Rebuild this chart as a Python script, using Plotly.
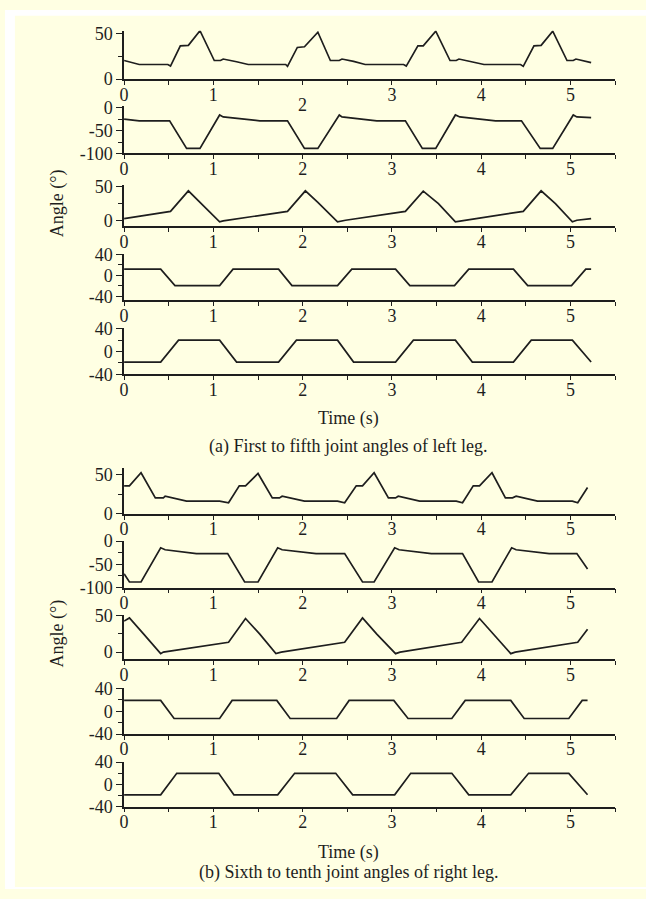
import plotly.graph_objects as go

# ---- joint angle traces (time in s, angle in degrees) ----
# Left leg, joints 1-5
t1 = [0, 0.17, 0.49, 0.52, 0.63, 0.72, 0.85, 1.01, 1.08, 1.11, 1.26, 1.39, 1.81, 1.83, 1.94, 2.02, 2.17,
      2.31, 2.41, 2.44, 2.57, 2.70, 3.13, 3.16, 3.29, 3.35, 3.49, 3.65, 3.72, 3.75, 3.89, 4.03, 4.44, 4.47,
      4.59, 4.67, 4.80, 4.96, 5.03, 5.06, 5.23]
a1 = [20.4, 16, 16, 14.3, 36.4, 37, 53, 20.4, 20.4, 22, 19, 16, 16, 14, 34.7, 35.4, 51.4,
      20.4, 20.4, 22, 19.4, 16, 16, 14.3, 36.4, 36.4, 52.5, 20.4, 20.4, 22, 19, 16, 16, 14,
      36.4, 37, 52.5, 20.4, 20.4, 22, 18]

t2 = [0, 0.17, 0.51, 0.70, 0.85, 1.07, 1.11, 1.52, 1.83, 2.02, 2.17, 2.41, 2.44, 2.83, 3.15, 3.34, 3.49,
      3.71, 3.76, 4.16, 4.45, 4.66, 4.80, 5.03, 5.07, 5.23]
a2 = [-25, -28.6, -28.6, -89, -89, -15.7, -20, -28.6, -28.6, -89, -89, -15.7, -20, -28.6, -28.6, -89, -89,
      -15.7, -20, -28.6, -28.6, -89, -89, -15.7, -20, -21.5]

t3 = [0, 0.52, 0.72, 0.85, 1.07, 1.11, 1.83, 2.03, 2.17, 2.39, 2.48, 3.15, 3.35, 3.52, 3.71, 3.78, 4.47,
      4.67, 4.83, 5.02, 5.07, 5.23]
a3 = [3.4, 14, 44.3, 27.4, -1.4, 0, 14, 44.3, 27.4, -1.4, 0.9, 14, 43.8, 25.5, -1.4, 0, 14,
      44.3, 25.5, -1.4, 0.9, 3.4]

t4 = [0, 0.41, 0.57, 1.07, 1.22, 1.73, 1.88, 2.39, 2.55, 3.04, 3.20, 3.70, 3.86, 4.36, 4.52, 5.01, 5.17, 5.23]
a4 = [11.8, 11.8, -19.5, -19.5, 11.8, 11.8, -19.5, -19.5, 11.8, 11.8, -19.5, -19.5, 11.8, 11.8, -19.5,
      -19.5, 11.8, 11.8]

t5 = [0, 0.41, 0.61, 1.07, 1.26, 1.73, 1.93, 2.39, 2.57, 3.04, 3.24, 3.71, 3.90, 4.36, 4.56, 5.02, 5.23]
a5 = [-18.4, -18.4, 19.9, 19.9, -18.4, -18.4, 19.9, 19.9, -18.4, -18.4, 19.9, 19.9, -18.4, -18.4, 19.9,
      19.9, -18.4]

# Right leg, joints 6-10
t6 = [0, 0.06, 0.19, 0.35, 0.44, 0.46, 0.70, 1.07, 1.17, 1.29, 1.36, 1.50, 1.66, 1.74, 1.77, 2.02, 2.39,
      2.47, 2.60, 2.67, 2.80, 2.96, 3.04, 3.07, 3.31, 3.72, 3.79, 3.91, 3.98, 4.12, 4.27, 4.35, 4.39, 4.63,
      5.02, 5.08, 5.19]
a6 = [35.8, 35.8, 52.5, 20.4, 20.4, 22.5, 16.2, 16.2, 14.1, 35.8, 35.8, 51.6, 20.4, 20.4, 22.5, 16.2, 16.2,
      14.1, 35.8, 35.8, 52.5, 20.4, 20.4, 22.5, 16.2, 16.2, 14.1, 35.8, 35.8, 52.5, 20.4, 20.4, 22.5, 16.2,
      16.2, 14.1, 33.7]

t7 = [0, 0.06, 0.19, 0.41, 0.46, 0.81, 1.16, 1.35, 1.50, 1.72, 1.77, 2.15, 2.47, 2.67, 2.80, 3.03, 3.08,
      3.44, 3.79, 3.97, 4.12, 4.34, 4.39, 4.76, 5.07, 5.19]
a7 = [-70.4, -88, -88, -14.1, -18.4, -26.8, -26.8, -88, -88, -14.1, -18.4, -26.8, -26.8, -88, -88, -14.1,
      -18.4, -26.8, -26.8, -88, -88, -14.1, -18.4, -26.8, -26.8, -59.9]

t8 = [0, 0.06, 0.22, 0.41, 0.44, 0.49, 1.17, 1.36, 1.52, 1.70, 1.76, 2.47, 2.67, 2.83, 3.04, 3.09, 3.78,
      3.98, 4.14, 4.33, 4.38, 5.08, 5.19]
a8 = [42.4, 46.8, 24.6, -2.1, 0, 0.9, 13.4, 46, 24.6, -2.1, 0, 13.4, 46.8, 24.6, -2.1, 0, 13.4,
      46, 24.6, -2.1, 0, 13.4, 31.3]

t9 = [0, 0.41, 0.56, 1.07, 1.21, 1.71, 1.86, 2.38, 2.52, 3.02, 3.18, 3.67, 3.82, 4.33, 4.48, 4.98, 5.13, 5.19]
a9 = [19.1, 19.1, -12.7, -12.7, 19.1, 19.1, -12.7, -12.7, 19.1, 19.1, -12.7, -12.7, 19.1, 19.1, -12.7,
      -12.7, 19.1, 19.1]

t10 = [0, 0.41, 0.59, 1.06, 1.23, 1.72, 1.91, 2.37, 2.56, 3.03, 3.21, 3.67, 3.86, 4.33, 4.53, 4.98, 5.19]
a10 = [-18.7, -18.7, 19.8, 19.8, -18.7, -18.7, 19.8, 19.8, -18.7, -18.7, 19.8, 19.8, -18.7, -18.7, 19.8,
       19.8, -18.7]

series = [(t1, a1), (t2, a2), (t3, a3), (t4, a4), (t5, a5),
          (t6, a6), (t7, a7), (t8, a8), (t9, a9), (t10, a10)]

# axis settings per panel: y range, major ticks, minor ticks, vertical band (px from top)
y_ranges = [[0, 53], [-100, 3], [-8, 53], [-48, 40], [-40, 41],
            [0, 58], [-100, 1], [-10, 51], [-40, 41], [-40, 41]]
y_major = [[0, 50], [-100, -50, 0], [0, 50], [-40, 0, 40], [-40, 0, 40],
           [0, 50], [-100, -50, 0], [0, 50], [-40, 0, 40], [-40, 0, 40]]
y_minor = [[25], [-75, -25], [25], [-20, 20], [-20, 20],
           [25], [-75, -25], [25], [-20, 20], [-20, 20]]
bands_px = [(21.2, 70.7), (98.6, 146.7), (178.9, 221.2), (250, 297.1), (325.4, 372.7),
            (468.9, 515.3), (542.8, 590.7), (618.6, 664.2), (693.4, 740.5), (768.6, 814.8)]

x_major = [0, 1, 2, 3, 4, 5]
x_minor = [0.5, 1.5, 2.5, 3.5, 4.5, 5.5]

W, H = 646, 899


def px(xp):
    return xp / W


def py(yp):
    return 1 - yp / H


INK = "#1e1e1e"
CREAM = "#FFFFE3"
FONT = "Liberation Serif"
TICK_SIZE = 18
x_dom = [px(120), px(615)]

fig = go.Figure()
layout = dict(
    width=W, height=H,
    margin=dict(l=0, r=0, t=0, b=0),
    paper_bgcolor=CREAM,
    plot_bgcolor="rgba(0,0,0,0)",
    showlegend=False,
    font=dict(family=FONT, size=TICK_SIZE, color=INK),
)

for i, (tt, aa) in enumerate(series):
    n = i + 1
    sx = "" if n == 1 else str(n)
    fig.add_trace(go.Scatter(x=tt, y=aa, mode="lines",
                             line=dict(color=INK, width=1.7),
                             xaxis="x" + sx, yaxis="y" + sx,
                             hoverinfo="skip"))
    top, bot = bands_px[i]
    ticktext = [str(v) for v in x_major]
    if n == 1:
        ticktext[2] = ""
    layout["xaxis" + sx] = dict(
        domain=x_dom, anchor="y" + sx, range=[0, 5.5],
        showline=True, linecolor=INK, linewidth=1.6,
        showgrid=False, zeroline=False,
        tickmode="array", tickvals=x_major, ticktext=ticktext,
        ticks="outside", ticklen=4, tickwidth=1.4, tickcolor=INK,
        ticklabelstandoff=-6,
        minor=dict(tickmode="array", tickvals=x_minor, ticks="outside",
                   ticklen=4, tickwidth=1.4, tickcolor=INK, showgrid=False),
        tickfont=dict(family=FONT, size=TICK_SIZE, color=INK),
        fixedrange=True,
    )
    layout["yaxis" + sx] = dict(
        domain=[py(bot), py(top)], anchor="x" + sx,
        range=y_ranges[i],
        showline=True, linecolor=INK, linewidth=1.6,
        showgrid=False, zeroline=False,
        tickmode="array", tickvals=y_major[i],
        ticktext=[str(v) for v in y_major[i]],
        ticks="outside", ticklen=6, tickwidth=1.4, tickcolor=INK,
        minor=dict(tickmode="array", tickvals=y_minor[i], ticks="outside",
                   ticklen=4, tickwidth=1.4, tickcolor=INK, showgrid=False),
        tickfont=dict(family=FONT, size=TICK_SIZE, color=INK),
        fixedrange=True,
    )

fig.update_layout(**layout)

# thin white strips along the top, left and bottom edges of the page
for x0, x1, y0, y1 in [(0, 646, 0, 6), (0, 10, 0, 899), (0, 646, 897, 899)]:
    fig.add_shape(type="rect", xref="paper", yref="paper",
                  x0=px(x0), x1=px(x1), y0=py(y1), y1=py(y0),
                  fillcolor="white", line=dict(width=0), layer="below")


def note(text, xp, yp, size, angle=0):
    fig.add_annotation(text=text, xref="paper", yref="paper",
                       x=px(xp), y=py(yp), xanchor="center", yanchor="middle",
                       showarrow=False, textangle=angle,
                       font=dict(family=FONT, size=size, color=INK))


# the "2" label of the first panel sits lower than its neighbours
note("2", 300, 97, TICK_SIZE)

note("Angle (°)", 53, 198, 18, -90)
note("Angle (°)", 53, 638, 18, -90)
note("Time (s)", 346, 418, 18)
note("Time (s)", 346, 862, 18)
note("(a) First to fifth joint angles of left leg.", 346, 446, 18)
note("(b) Sixth to tenth joint angles of right leg.", 346, 882, 18)

fig.write_html("out.html")
